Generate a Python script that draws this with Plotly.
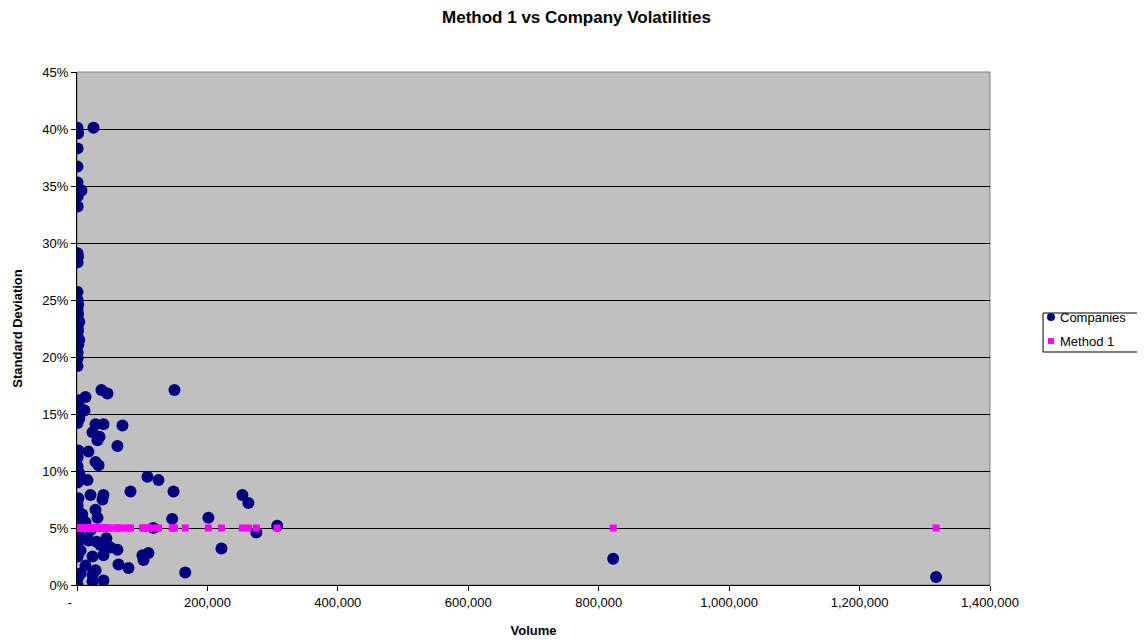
import plotly.graph_objects as go

# Companies: volume and standard deviation
company_volume = [
    800, 1000, 1500, 25300, 900, 700, 800, 1600, 6900, 900, 1000,
    800, 1500, 900, 800, 1000, 1700, 900, 1600, 1000, 3500, 900, 1600, 800, 3500, 2000,
    900, 1000, 800,
    37500, 46700, 149400, 13000, 2000, 900, 5500, 11500, 900, 3500, 900,
    28400, 40600, 69700, 23800, 31400, 34500, 62000, 2000, 17600, 900,
    28400, 33000, 900, 3500, 16100, 108000, 125000, 900, 82000, 148000,
    20700, 40600, 39100, 2000, 900, 900, 28400, 8000, 31400, 146000,
    201500, 253600, 262800, 307000, 275000, 221500, 117000,
    900, 5500, 13000, 20700, 900, 5500, 17600, 36000, 51300, 62000,
    900, 5500, 900, 23800, 40600, 100400, 109600, 102000, 63600, 79000,
    166000, 5500, 900, 23800, 40600, 23800, 900, 822200, 1317300,
    13000, 28400, 30000, 45000,
]
company_sd = [
    0.401, 0.398, 0.396, 0.401, 0.383, 0.367, 0.353, 0.349, 0.346, 0.341, 0.332,
    0.291, 0.288, 0.283, 0.257, 0.250, 0.246, 0.242, 0.238, 0.234, 0.231, 0.226, 0.223, 0.218, 0.215, 0.211,
    0.204, 0.199, 0.192,
    0.171, 0.168, 0.171, 0.165, 0.162, 0.159, 0.155, 0.153, 0.151, 0.146, 0.142,
    0.141, 0.141, 0.140, 0.134, 0.127, 0.130, 0.122, 0.118, 0.117, 0.112,
    0.108, 0.105, 0.104, 0.098, 0.092, 0.095, 0.092, 0.090, 0.082, 0.082,
    0.079, 0.079, 0.075, 0.076, 0.070, 0.066, 0.066, 0.062, 0.059, 0.058,
    0.059, 0.079, 0.072, 0.052, 0.046, 0.032, 0.050,
    0.057, 0.053, 0.055, 0.048, 0.046, 0.042, 0.039, 0.035, 0.033, 0.031,
    0.035, 0.030, 0.025, 0.025, 0.026, 0.026, 0.028, 0.022, 0.018, 0.015,
    0.011, 0.010, 0.006, 0.009, 0.004, 0.003, 0.000, 0.023, 0.007,
    0.017, 0.013, 0.038, 0.041,
]

# Method 1: same volumes, constant 5% volatility
method1_volume = company_volume
method1_sd = [0.05] * len(company_volume)

x_tickvals = [0, 200000, 400000, 600000, 800000, 1000000, 1200000, 1400000]
x_ticktext = ["-\u00a0\u00a0\u00a0\u00a0", "200,000", "400,000", "600,000", "800,000",
              "1,000,000", "1,200,000", "1,400,000"]

legend_labels = ["Companies", "Method 1"]
NAVY = "#000080"
MAGENTA = "#FF00FF"
FONT = "Liberation Sans, Arial, sans-serif"

fig = go.Figure()
fig.add_trace(go.Scatter(
    x=company_volume, y=company_sd, mode="markers", name=legend_labels[0],
    marker=dict(symbol="circle", size=12, color=NAVY, line=dict(width=0)),
))
fig.add_trace(go.Scatter(
    x=method1_volume, y=method1_sd, mode="markers", name=legend_labels[1],
    marker=dict(symbol="square", size=7, color=MAGENTA, line=dict(width=0)),
))

# Plot area is 913 x 513 px; helpers for paper-coordinate sizes
PW, PH = 913.0, 513.0
cx, cy1, cy2 = 1.0668, 0.5224, 0.4756
r_c = 4.0
h_s = 3.0
shapes = [
    dict(type="rect", xref="paper", yref="paper", x0=0, y0=0, x1=1, y1=1,
         line=dict(color="#808080", width=1), layer="below"),
    # custom legend box
    dict(type="rect", xref="paper", yref="paper", x0=1.0581, y0=0.4542, x1=1.1665, y1=0.5302,
         line=dict(color="black", width=1), fillcolor="white"),
    dict(type="circle", xref="paper", yref="paper",
         x0=cx - r_c / PW, x1=cx + r_c / PW, y0=cy1 - r_c / PH, y1=cy1 + r_c / PH,
         line=dict(width=0), fillcolor=NAVY),
    dict(type="rect", xref="paper", yref="paper",
         x0=cx - h_s / PW, x1=cx + h_s / PW, y0=cy2 - h_s / PH, y1=cy2 + h_s / PH,
         line=dict(width=0), fillcolor=MAGENTA),
]
annotations = [
    dict(text=legend_labels[0], xref="paper", yref="paper", x=1.0745, y=cy1,
         xanchor="left", yanchor="middle", showarrow=False, font=dict(size=13, family=FONT)),
    dict(text=legend_labels[1], xref="paper", yref="paper", x=1.0745, y=cy2,
         xanchor="left", yanchor="middle", showarrow=False, font=dict(size=13, family=FONT)),
]

fig.update_layout(
    width=1137, height=635,
    paper_bgcolor="white", plot_bgcolor="#C0C0C0",
    margin=dict(l=69, r=155, t=64, b=58, autoexpand=False),
    font=dict(family=FONT, size=12, color="black"),
    title=dict(text="<b>Method 1 vs Company Volatilities</b>", x=0.5, xanchor="center",
               xref="container", yref="container",
               y=0.9858, yanchor="middle", font=dict(size=17, family=FONT)),
    showlegend=False,
    shapes=shapes,
    annotations=annotations,
)
fig.update_xaxes(
    range=[0, 1400000], tickvals=x_tickvals, ticktext=x_ticktext,
    showgrid=False, zeroline=False, showline=True, linecolor="black", linewidth=1,
    ticks="outside", ticklen=5, tickcolor="black", automargin=False,
    tickfont=dict(size=13, family=FONT),
    title=dict(text="<b>Volume</b>", font=dict(size=13, family=FONT), standoff=17),
)
fig.update_yaxes(
    range=[0, 0.45], dtick=0.05, tickformat=".0%",
    showgrid=True, gridcolor="black", gridwidth=1,
    zeroline=False, showline=True, linecolor="black", linewidth=1,
    ticks="outside", ticklen=5, tickcolor="black", automargin=False,
    tickfont=dict(size=13, family=FONT),
    title=dict(text="<b>Standard Deviation</b>", font=dict(size=13, family=FONT), standoff=16),
)

fig.write_html("out.html")
